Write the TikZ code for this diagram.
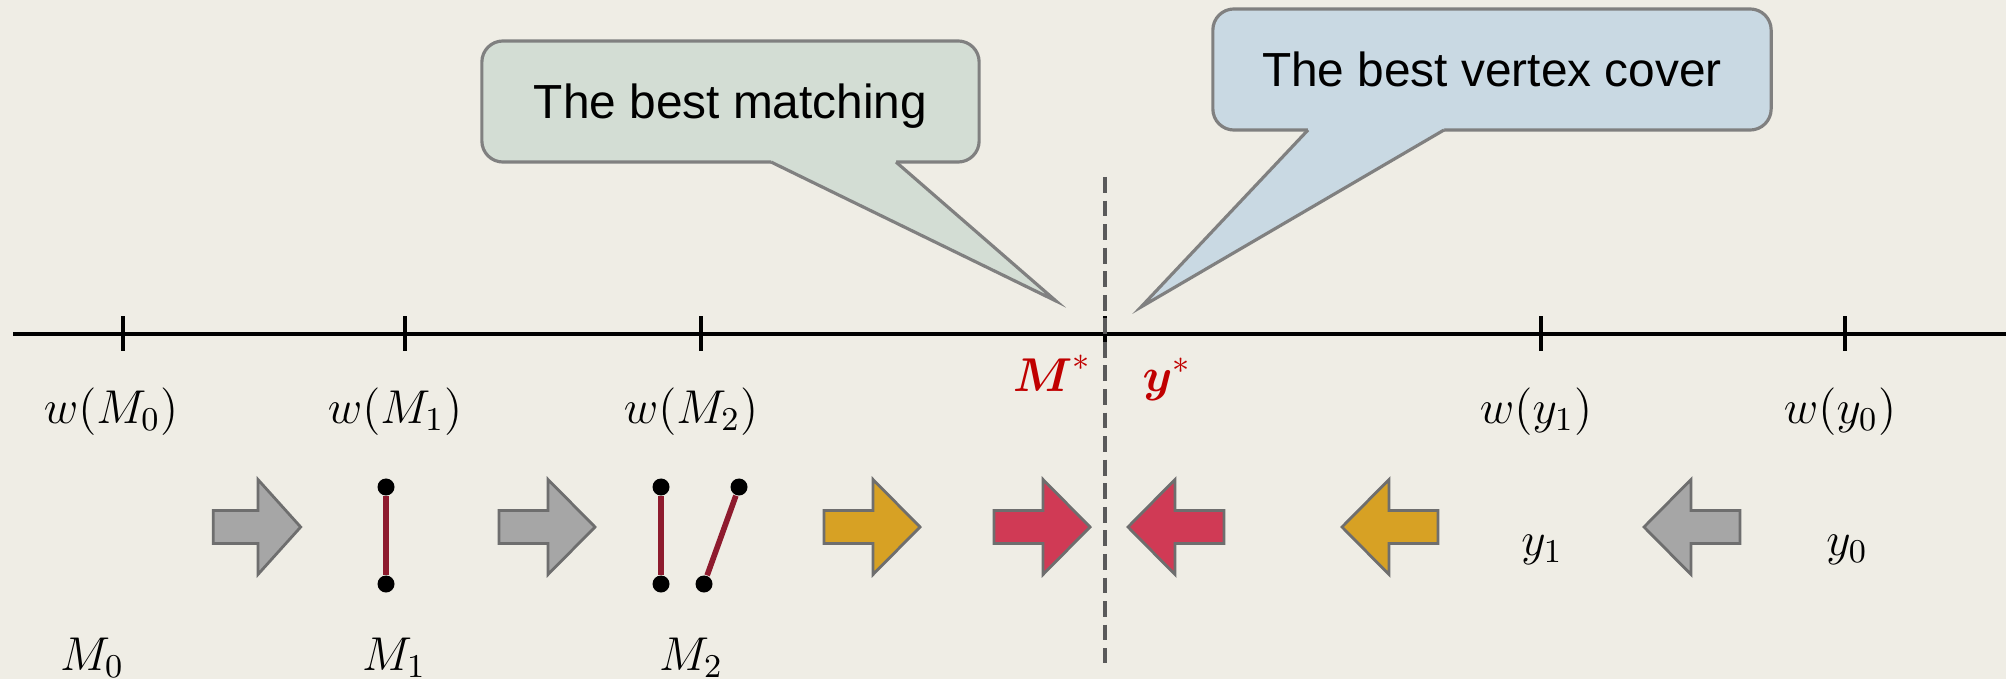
\RequirePackage{fix-cm}
\documentclass[tikz,border=0pt]{standalone}
\usepackage{amsmath,amssymb}
\usepackage[no-math]{fontspec}
\newfontfamily\calloutfont{Liberation Sans}
\usepackage{xcolor}
\usetikzlibrary{positioning}

\definecolor{bgcol}{HTML}{EFEDE5}
\definecolor{greencall}{HTML}{D3DDD4}
\definecolor{bluecall}{HTML}{C9D9E3}
\definecolor{callline}{HTML}{808080}
\definecolor{arrline}{HTML}{6E6E6E}
\definecolor{grayarr}{HTML}{A6A6A6}
\definecolor{goldarr}{HTML}{D7A124}
\definecolor{redarr}{HTML}{D03A55}
\definecolor{edgecol}{HTML}{8E1B2E}
\definecolor{starred}{HTML}{C00000}
\definecolor{dashcol}{HTML}{5A5A5A}

\tikzset{
  blockarrow/.pic={
    \draw[pic actions] (-48,-16.5) -- (1,-16.5) -- (1,-47.5) -- (48,0)
      -- (1,47.5) -- (1,16.5) -- (-48,16.5) -- cycle;
  }
}

\begin{document}
\begin{tikzpicture}[
  x=0.01cm, y=-0.01cm,
  wlabel/.style={font=\fontsize{13.5}{16}\selectfont, anchor=base},
  callbox/.style={draw=callline, line width=0.9pt, rounded corners=6pt,
                  font=\calloutfont\fontsize{13.6}{16}\selectfont,
                  text depth=0pt, inner sep=0pt},
  blkarr/.style={draw=arrline, line width=0.8pt},
  vtx/.style={circle, fill=black, inner sep=0pt, minimum size=0.17cm},
  medge/.style={draw=edgecol, line width=1.6pt},
  axtick/.style={line width=1.3pt}
]
\useasboundingbox (0,0) rectangle (2006,679);
\fill[bgcol] (0,0) rectangle (2006,679);

% number line
\coordinate (axl) at (13,334);
\coordinate (axr) at (2006,334);
\draw[line width=1.2pt] (axl) -- (axr);
\foreach \tx in {123,405,701,1105,1541,1845}
  \draw[axtick] (\tx,316) -- (\tx,351);

% split between matching and cover
\coordinate (dtop) at (1105,177);
\coordinate (dbot) at (1105,663);
\draw[dashcol, line width=0.9pt, dash pattern=on 4.5pt off 2.2pt] (dtop) -- (dbot);

% weights on the line
\node[wlabel] (wm0) at (111,423) {$w(M_0)$};
\node[wlabel] (wm1) at (395,423) {$w(M_1)$};
\node[wlabel] (wm2) at (691,423) {$w(M_2)$};
\node[wlabel] (wy1) at (1536,423) {$w(y_1)$};
\node[wlabel] (wy0) at (1840,423) {$w(y_0)$};
\node[wlabel, text=starred] (mstar) at (1052,391) {$\boldsymbol{M}^{*}$};
\node[wlabel, text=starred] (ystar) at (1167,391) {$\boldsymbol{y}^{*}$};

% callouts
\node[callbox, fill=greencall, minimum width=4.97cm, minimum height=1.21cm]
  (match) at (730.5,101.5) {The best matching};
\coordinate (mbl) at (771,162);
\coordinate (mbr) at (896,162);
\coordinate (mtip) at (1056,301);
\fill[greencall] (771,157) -- (mbl) -- (mtip) -- (mbr) -- (896,157) -- cycle;
\draw[callline, line width=0.9pt] (mbl) -- (mtip) -- (mbr);

\node[callbox, fill=bluecall, minimum width=5.58cm, minimum height=1.21cm]
  (cover) at (1492,69.5) {The best vertex cover};
\coordinate (cbl) at (1308,130);
\coordinate (cbr) at (1444,130);
\coordinate (ctip) at (1141,307);
\fill[bluecall] (1308,125) -- (cbl) -- (ctip) -- (cbr) -- (1444,125) -- cycle;
\draw[callline, line width=0.9pt] (cbl) -- (ctip) -- (cbr);

% block arrows
\pic[blkarr, fill=grayarr, xscale=0.91] at (257,527) {blockarrow};
\pic[blkarr, fill=grayarr] at (547,527) {blockarrow};
\pic[blkarr, fill=goldarr] at (872,527) {blockarrow};
\pic[blkarr, fill=redarr] at (1042,527) {blockarrow};
\pic[blkarr, fill=redarr, xscale=-1] at (1176,527) {blockarrow};
\pic[blkarr, fill=goldarr, xscale=-1] at (1390,527) {blockarrow};
\pic[blkarr, fill=grayarr, xscale=-1] at (1692,527) {blockarrow};

% matchings
\node[vtx] (a1) at (386,487) {};
\node[vtx] (b1) at (386,584) {};
\draw[medge] (a1) -- (b1);
\node[vtx] (a2) at (661,487) {};
\node[vtx] (b2) at (661,584) {};
\node[vtx] (c2) at (704,584) {};
\node[vtx] (d2) at (739,487) {};
\draw[medge] (a2) -- (b2);
\draw[medge] (c2) -- (d2);

% iterates
\node[wlabel] (m0) at (92,670) {$M_0$};
\node[wlabel] (m1) at (394,670) {$M_1$};
\node[wlabel] (m2) at (691,670) {$M_2$};
\node[wlabel] (y1) at (1542,555) {$y_1$};
\node[wlabel] (y0) at (1847,555) {$y_0$};
\end{tikzpicture}
\end{document}
